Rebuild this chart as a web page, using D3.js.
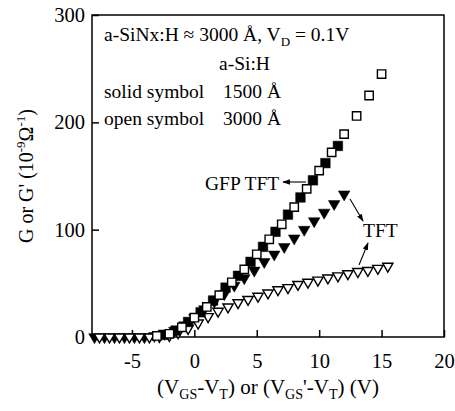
<!DOCTYPE html>
<html>
<head>
<meta charset="utf-8">
<script src="https://cdn.jsdelivr.net/npm/d3@7"></script>
<style>
  body { margin:0; background:#fff; }
  svg text { font-family: "Liberation Serif", "Times New Roman", serif; fill:#000; }
</style>
</head>
<body>
<div id="chartDiv"></div>
<script>
// x values (V) and G values (1e-9 / ohm)
var openSqX   = [-3, -2, -1, 0, 1, 2, 3, 4, 5, 6, 7, 8, 9, 10, 11, 12, 13, 14, 15];
var openSqY   = [1, 3, 9, 18, 28, 39, 51, 63, 77, 91, 105, 121, 138, 155, 172, 189, 206, 225, 245];
var solidSqX  = [-2.5, -1.5, -0.5, 0.5, 1.5, 2.5, 3.5, 4.5, 5.5, 6.5, 7.5, 8.5, 9.5, 10.5, 11.5];
var solidSqY  = [2, 6, 14, 23, 34, 46, 57, 70, 84, 98, 114, 130, 146, 162, 178];
var solidTriX = [-8, -7.2, -6.4, -5.6, -4.8, -4, -3.2, -2.4, -1.6, -0.8, 0, 0.8, 1.6, 2.4, 3.2, 4, 4.8, 5.6, 6.4, 7.2, 8, 8.8, 9.6, 10.4, 11.2, 12];
var solidTriY = [0, 0, 0, 0, 0, 0, 1, 3, 6, 11, 18, 26, 33, 40, 48, 55, 62, 70, 77, 84, 92, 100, 108, 116, 124, 133];
var openTriX  = [-7.6, -6.8, -6, -5.2, -4.4, -3.6, -2.8, -2, -1.3, -0.5, 0.3, 1.1, 1.9, 2.7, 3.5, 4.3, 5.1, 5.9, 6.7, 7.5, 8.3, 9.1, 9.9, 10.7, 11.5, 12.3, 13.1, 13.9, 14.7, 15.5];
var openTriY  = [0, 0, 0, 0, 0, 0, 0.5, 1.5, 4, 8, 13, 19, 24, 28, 32, 35, 38, 41, 44, 46, 49, 51, 53, 55, 57, 59, 61, 62, 64, 66];
var xTicks = [-5, 0, 5, 10, 15, 20];
var yTicks = [0, 100, 200, 300];

var W = 455, H = 411;
var x = d3.scaleLinear().domain([-8.2, 20]).range([92, 444]);
var y = d3.scaleLinear().domain([0, 300]).range([337, 15]);

var svg = d3.select("#chartDiv").append("svg")
    .attr("width", W).attr("height", H);

// axes, ticks pointing inward
svg.append("g")
    .attr("transform", "translate(0," + y(0) + ")")
    .call(d3.axisBottom(x).tickValues(xTicks).tickSizeInner(-7).tickSizeOuter(0).tickPadding(16)
        .tickFormat(function(d){ return d < 0 ? "-" + Math.abs(d) : d; }))
    .call(function(g){ g.select(".domain").remove(); });
svg.append("g")
    .attr("transform", "translate(" + x(-8.2) + ",0)")
    .call(d3.axisLeft(y).tickValues(yTicks).tickSizeInner(-7).tickSizeOuter(0).tickPadding(7))
    .call(function(g){ g.select(".domain").remove(); });
svg.selectAll(".tick line").attr("stroke", "#000").attr("stroke-width", 1.5);
svg.selectAll(".tick text").attr("font-size", 20.5).attr("font-family", "Liberation Serif");

svg.append("rect")
    .attr("x", x(-8.2)).attr("y", y(300))
    .attr("width", x(20) - x(-8.2)).attr("height", y(0) - y(300))
    .attr("fill", "none").attr("stroke", "#000").attr("stroke-width", 1.5);

function zipPts(xs, ys){
  return xs.map(function(v, i){ return {x: v, y: ys[i]}; });
}

function drawSeries(pts, type, size, filled){
  var sym = d3.symbol().type(type).size(size);
  svg.append("g").selectAll("path")
    .data(pts)
    .enter().append("path")
    .attr("d", sym)
    .attr("transform", function(d){
      var t = "translate(" + x(d.x) + "," + y(d.y) + ")";
      return type === d3.symbolTriangle ? t + " rotate(180)" : t;
    })
    .attr("fill", filled ? "#000" : "#fff")
    .attr("stroke", "#000")
    .attr("stroke-width", filled ? 0.5 : 1.4);
}

drawSeries(zipPts(solidTriX, solidTriY), d3.symbolTriangle, 58, true);
drawSeries(zipPts(openTriX, openTriY), d3.symbolTriangle, 46, false);
drawSeries(zipPts(solidSqX, solidSqY), d3.symbolSquare, 92, true);
drawSeries(zipPts(openSqX, openSqY), d3.symbolSquare, 70, false);

// legend text block
var fs = 19.5;
var t1 = svg.append("text").attr("x", 104).attr("y", 41).attr("font-size", fs);
t1.append("tspan").text("a-SiNx:H \u2248 3000 \u00c5, V");
t1.append("tspan").attr("font-size", 13).attr("dy", 5).text("D");
t1.append("tspan").attr("dy", -5).text(" = 0.1V");
svg.append("text").attr("x", 219).attr("y", 70).attr("font-size", fs).text("a-Si:H");
svg.append("text").attr("x", 104).attr("y", 98).attr("font-size", fs).text("solid symbol");
svg.append("text").attr("x", 223).attr("y", 98).attr("font-size", fs).text("1500 \u00c5");
svg.append("text").attr("x", 104).attr("y", 125).attr("font-size", fs).text("open symbol");
svg.append("text").attr("x", 223).attr("y", 125).attr("font-size", fs).text("3000 \u00c5");

// annotations with arrows
svg.append("defs").append("marker")
    .attr("id", "arrHead").attr("viewBox", "0 0 10 10")
    .attr("refX", 9).attr("refY", 5)
    .attr("markerWidth", 7).attr("markerHeight", 7)
    .attr("orient", "auto")
    .append("path").attr("d", "M0,1.5 L10,5 L0,8.5 Z").attr("fill", "#000");

svg.append("text").attr("x", 205).attr("y", 190).attr("font-size", fs).text("GFP TFT");
svg.append("text").attr("x", 363).attr("y", 237).attr("font-size", fs).text("TFT");

var arrows = [
  [306, 182, 283, 182],
  [350, 199, 363, 221],
  [359, 265, 368, 243]
];
svg.append("g").selectAll("line")
  .data(arrows)
  .enter().append("line")
  .attr("x1", function(d){ return d[0]; })
  .attr("y1", function(d){ return d[1]; })
  .attr("x2", function(d){ return d[2]; })
  .attr("y2", function(d){ return d[3]; })
  .attr("stroke", "#000").attr("stroke-width", 1.1)
  .attr("marker-end", "url(#arrHead)");

// x axis title
var xl = svg.append("text").attr("x", 268).attr("y", 394)
    .attr("text-anchor", "middle").attr("font-size", 21);
xl.append("tspan").text("(V");
xl.append("tspan").attr("font-size", 14).attr("dy", 5).text("GS");
xl.append("tspan").attr("dy", -5).text("-V");
xl.append("tspan").attr("font-size", 14).attr("dy", 5).text("T");
xl.append("tspan").attr("dy", -5).text(") or (V");
xl.append("tspan").attr("font-size", 14).attr("dy", 5).text("GS");
xl.append("tspan").attr("dy", -5).text("'-V");
xl.append("tspan").attr("font-size", 14).attr("dy", 5).text("T");
xl.append("tspan").attr("dy", -5).text(") (V)");

// y axis title
var yl = svg.append("text")
    .attr("transform", "translate(33," + ((y(0) + y(300)) / 2) + ") rotate(-90)")
    .attr("text-anchor", "middle").attr("font-size", 20);
yl.append("tspan").text("G or G' (10");
yl.append("tspan").attr("font-size", 13).attr("dy", -8).text("-9");
yl.append("tspan").attr("dy", 8).text("\u03a9");
yl.append("tspan").attr("font-size", 13).attr("dy", -8).text("-1");
yl.append("tspan").attr("dy", 8).text(")");
</script>
</body>
</html>
